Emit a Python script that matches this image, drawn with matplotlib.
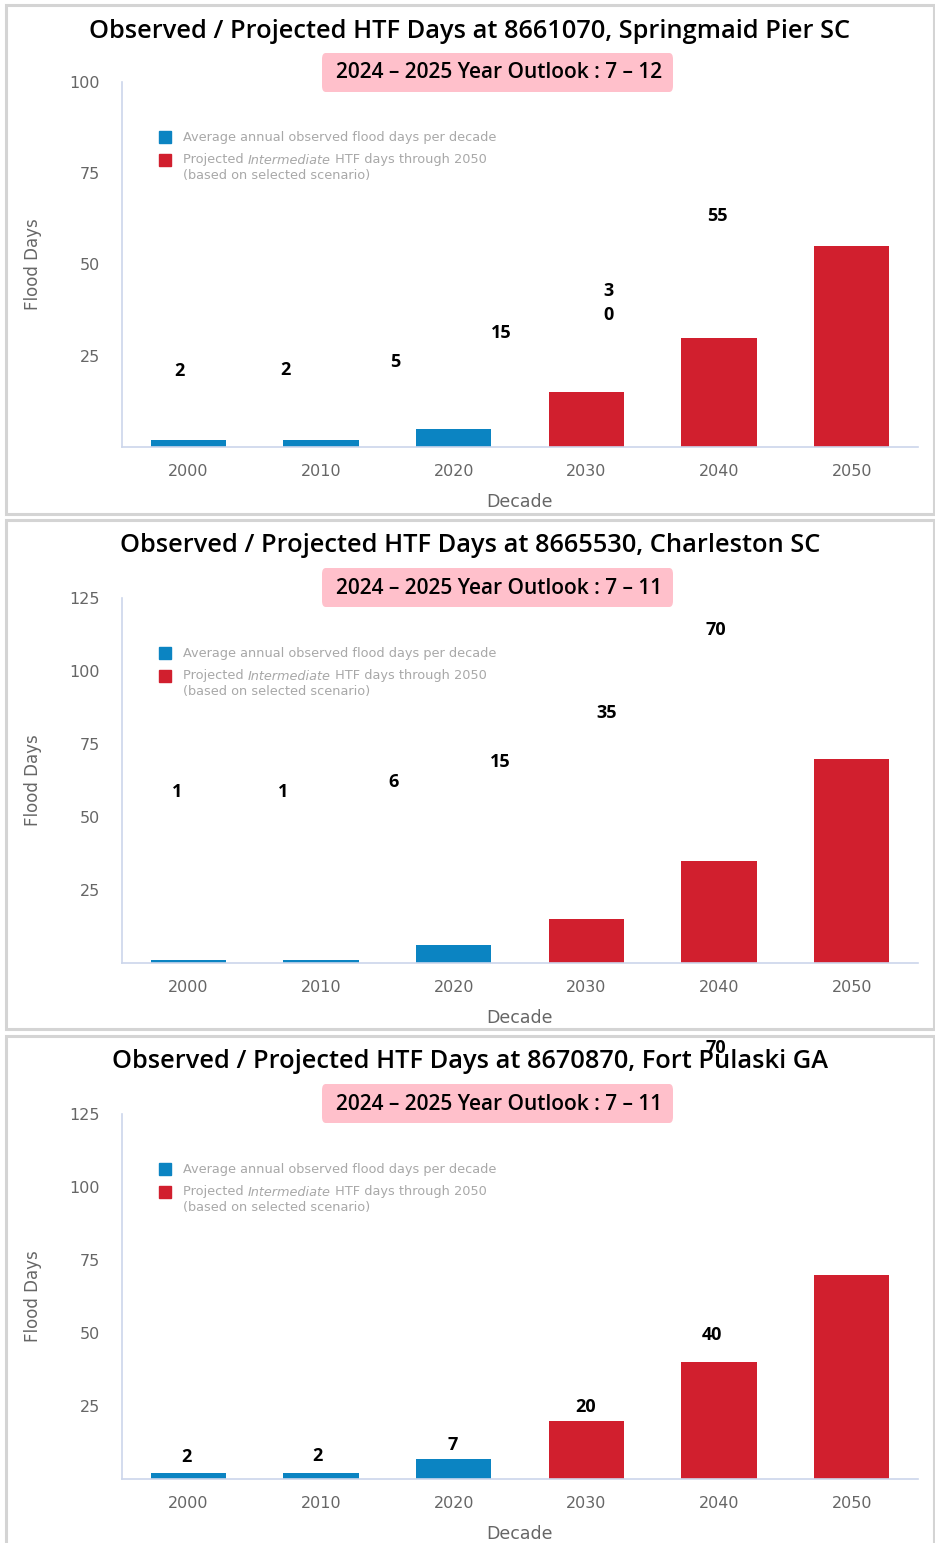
import matplotlib
matplotlib.use("Agg")
import matplotlib.pyplot as plt
from matplotlib.patches import Rectangle, FancyBboxPatch

# decades on the x axis; up to 2020 are observed, later ones projected
decades = ["2000", "2010", "2020", "2030", "2040", "2050"]
n_observed = 3

stations = ["8661070, Springmaid Pier SC",
            "8665530, Charleston SC",
            "8670870, Fort Pulaski GA"]
outlooks = ["7 – 12", "7 – 11", "7 – 11"]

springmaid_days = [2, 2, 5, 15, 30, 55]
charleston_days = [1, 1, 6, 15, 35, 70]
fort_pulaski_days = [2, 2, 7, 20, 40, 70]
all_days = [springmaid_days, charleston_days, fort_pulaski_days]

y_tops = [100, 125, 125]

# ---- layout (pixels) ----
W, H = 935, 1543
panel_boxes = [(6, 5, 934, 514), (6, 520, 934, 1029), (6, 1036, 934, 1545)]
axes_px = [(122, 82, 918, 447), (122, 598, 918, 963), (122, 1114, 918, 1479)]

# where each value label sits (pixel centres); "wrap" labels stack their digits
label_px = [
    [(179, 371), (285, 370), (395, 362), (501, 333), (608, 303), (717, 216)],
    [(177, 792), (283, 792), (394, 782), (500, 762), (607, 713), (716, 630)],
    [(186, 1457), (317, 1456), (453, 1445), (586, 1407), (712, 1335), (716, 1048)],
]
wrap_labels = [[False, False, False, False, True, False],
               [False] * 6,
               [False] * 6]

BLUE = "#0b84c2"
RED = "#d11f2e"
PINK = "#ffc0cb"
AXIS_COL = "#ccd6eb"
TXT_GRAY = "#666666"
LEG_GRAY = "#a8a8a8"
LEG_FS = 9.3


def fx(x):
    return x / W


def fy(y):
    return 1 - y / H


fig = plt.figure(figsize=(W / 100, H / 100), dpi=100)

for i in range(3):
    days = all_days[i]
    x0, y0, x1, y1 = panel_boxes[i]
    fig.patches.append(Rectangle((fx(x0), fy(y1)), fx(x1 - x0), (y1 - y0) / H,
                                 transform=fig.transFigure, fill=False,
                                 edgecolor="#d4d4d4", linewidth=2.2, zorder=0))

    ax_l, ax_t, ax_r, ax_b = axes_px[i]
    ax = fig.add_axes([fx(ax_l), fy(ax_b), (ax_r - ax_l) / W, (ax_b - ax_t) / H])
    colors = [BLUE if k < n_observed else RED for k in range(len(decades))]
    ax.bar(range(len(decades)), days, width=0.57, color=colors, zorder=2)
    ax.set_xlim(-0.5, len(decades) - 0.5)
    ax.set_ylim(0, y_tops[i])
    ax.set_yticks(range(25, y_tops[i] + 1, 25))
    ax.set_xticks(range(len(decades)))
    ax.set_xticklabels(decades)
    ax.tick_params(axis="both", length=0, labelsize=11.5, labelcolor=TXT_GRAY)
    ax.tick_params(axis="y", pad=16)
    ax.tick_params(axis="x", pad=12)
    for s in ["top", "right"]:
        ax.spines[s].set_visible(False)
    for s in ["left", "bottom"]:
        ax.spines[s].set_color(AXIS_COL)
        ax.spines[s].set_linewidth(1.2)
    ax.set_xlabel("Decade", fontsize=12.5, color=TXT_GRAY, labelpad=10)
    ax.set_ylabel("Flood Days", fontsize=12, color=TXT_GRAY)
    ax.yaxis.set_label_coords((42 - ax_l) / (ax_r - ax_l), 0.5)

    # title and outlook badge
    fig.text(fx(470), fy(y0 + 26), "Observed / Projected HTF Days at " + stations[i],
             ha="center", va="center", fontsize=18.3, fontweight="semibold",
             family="Open Sans", color="black")
    fig.patches.append(FancyBboxPatch((fx(322), fy(y0 + 87)), fx(351), 39 / H,
                                      boxstyle="round,pad=0,rounding_size=0.004",
                                      transform=fig.transFigure,
                                      facecolor=PINK, edgecolor="none", zorder=1))
    fig.text(fx(499), fy(y0 + 68), "2024 – 2025 Year Outlook : " + outlooks[i],
             ha="center", va="center", fontsize=15, fontweight="semibold",
             family="Open Sans", color="black", zorder=3)

    # legend
    lx, ly = 159, ax_t + 55
    fig.patches.append(Rectangle((fx(lx), fy(ly + 6)), fx(12), 12 / H,
                                 transform=fig.transFigure, color=BLUE, zorder=3))
    fig.text(fx(lx + 24), fy(ly), "Average annual observed flood days per decade",
             ha="left", va="center", fontsize=LEG_FS, color=LEG_GRAY)
    fig.patches.append(Rectangle((fx(lx), fy(ly + 29)), fx(12), 12 / H,
                                 transform=fig.transFigure, color=RED, zorder=3))
    t1 = fig.text(fx(lx + 24), fy(ly + 23), "Projected ", ha="left", va="center",
                  fontsize=LEG_FS, color=LEG_GRAY)
    fig.canvas.draw()
    bb = t1.get_window_extent()
    t2 = fig.text(bb.x1 / W, fy(ly + 23), "Intermediate", ha="left", va="center",
                  fontsize=LEG_FS, color=LEG_GRAY, style="italic")
    bb = t2.get_window_extent()
    fig.text(bb.x1 / W, fy(ly + 23), " HTF days through 2050", ha="left",
             va="center", fontsize=LEG_FS, color=LEG_GRAY)
    fig.text(fx(lx + 24), fy(ly + 38), "(based on selected scenario)", ha="left",
             va="center", fontsize=LEG_FS, color=LEG_GRAY)

    # value labels
    for k, v in enumerate(days):
        s = str(v)
        if wrap_labels[i][k]:
            s = "\n".join(s)
        px, py = label_px[i][k]
        fig.text(fx(px), fy(py), s, ha="center", va="center", fontsize=13,
                 fontweight="bold", family="Open Sans", color="black",
                 linespacing=1.5, zorder=5)

fig.savefig("out.png", dpi=100)
